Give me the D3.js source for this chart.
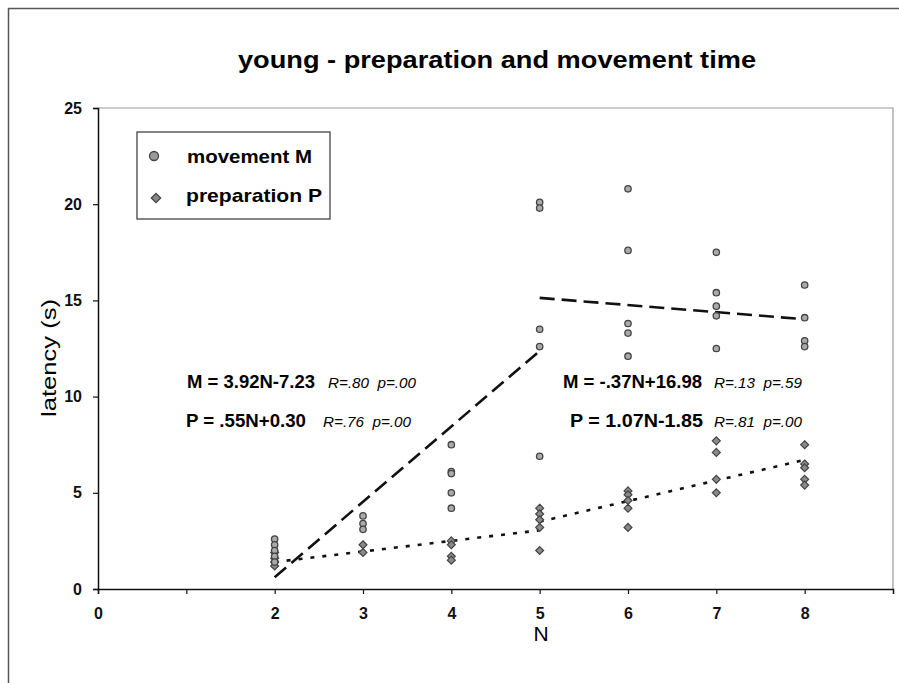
<!DOCTYPE html>
<html>
<head>
<meta charset="utf-8">
<script src="https://cdn.jsdelivr.net/npm/d3@7"></script>
<style>
  body { margin: 0; background: #fff; }
  svg { font-family: "Liberation Sans", Arial, sans-serif; }
</style>
</head>
<body>
<div class="container"></div>
<script>
var nValues = [2, 3, 4, 5, 6, 7, 8];
var movement = [
    [2.6, 2.3, 2.0, 1.7, 1.4],
    [3.8, 3.4, 3.1],
    [7.5, 6.1, 6.0, 5.0, 4.2],
    [20.1, 19.8, 13.5, 12.6, 6.9],
    [20.8, 17.6, 13.8, 13.3, 12.1],
    [17.5, 15.4, 14.7, 14.2, 12.5],
    [15.8, 14.1, 12.9, 12.6]
];
var preparation = [
    [1.9, 1.6, 1.4, 1.2],
    [2.3, 1.9],
    [2.5, 2.3, 1.7, 1.5],
    [4.2, 3.9, 3.6, 3.2, 2.0],
    [5.1, 4.9, 4.6, 4.2, 3.2],
    [7.7, 7.1, 5.7, 5.0],
    [7.5, 6.5, 6.3, 5.7, 5.4]
];
var xTicks = [0, 1, 2, 3, 4, 5, 6, 7, 8];
var xTickLabels = ['0', '', '2', '3', '4', '5', '6', '7', '8'];
var yTicks = [0, 5, 10, 15, 20, 25];

// regression segments: [slope, intercept, fromN, toN]
var fitM = [[3.92, -7.23, 2, 5], [-0.37, 16.98, 5, 8]];
var fitP = [[0.55, 0.30, 2, 5], [1.07, -1.85, 5, 8]];
var eqLabels = ['M = 3.92N-7.23', 'P = .55N+0.30', 'M = -.37N+16.98', 'P = 1.07N-1.85'];
var statLabels = ['R=.80  p=.00', 'R=.76  p=.00', 'R=.13  p=.59', 'R=.81  p=.00'];

var W = 899, H = 683;
var plotL = 98, plotT = 108, plotR = 893, plotB = 589;

var translate = (x, y) => `translate(${ x },${ y })`;

var svg = d3.select('.container').append('svg')
    .attr('width', W)
    .attr('height', H);

var x = d3.scaleLinear().domain([0, 9]).range([plotL, plotR]);
var y = d3.scaleLinear().domain([0, 25]).range([plotB, plotT]);

// outer frame
svg.append('rect')
    .attr('x', 8.5).attr('y', 8.5)
    .attr('width', W).attr('height', H)
    .attr('fill', 'none').attr('stroke', '#555').attr('stroke-width', 1.5);

// plot area border (top / right)
svg.append('path')
    .attr('d', `M${plotL},${plotT}H${plotR}V${plotB}`)
    .attr('fill', 'none').attr('stroke', '#999').attr('stroke-width', 1.2);

svg.append('text')
    .attr('x', 497).attr('y', 68)
    .attr('text-anchor', 'middle')
    .attr('font-size', 23).attr('font-weight', 'bold')
    .attr('textLength', 518).attr('lengthAdjust', 'spacingAndGlyphs')
    .text('young - preparation and movement time');

var xAxis = d3.axisBottom(x).tickValues(xTicks).tickSize(5).tickPadding(14)
    .tickFormat((d, i) => xTickLabels[i]);
var yAxis = d3.axisLeft(y).tickValues(yTicks).tickSize(5).tickPadding(11);

var gx = svg.append('g').attr('transform', translate(0, plotB)).call(xAxis);
var gy = svg.append('g').attr('transform', translate(plotL, 0)).call(yAxis);
[gx, gy].forEach(g => {
    g.select('.domain').attr('stroke', '#111').attr('stroke-width', 1.5);
    g.selectAll('.tick line').attr('stroke', '#111').attr('stroke-width', 1.2);
    g.selectAll('.tick text')
        .attr('font-family', '"Liberation Sans", Arial, sans-serif')
        .attr('font-size', 16).attr('font-weight', 'bold').attr('fill', '#111');
});

svg.append('text')
    .attr('transform', translate(56, 358) + ' rotate(-90)')
    .attr('text-anchor', 'middle')
    .attr('font-size', 21)
    .attr('textLength', 118).attr('lengthAdjust', 'spacingAndGlyphs')
    .text('latency (s)');

svg.append('text')
    .attr('x', 541).attr('y', 641)
    .attr('text-anchor', 'middle')
    .attr('font-size', 21)
    .text('N');

// regression lines
var drawFit = (fits, dash) => {
    fits.forEach(([a, b, s, e]) => {
        svg.append('line')
            .attr('x1', x(s)).attr('y1', y(a * s + b))
            .attr('x2', x(e)).attr('y2', y(a * e + b))
            .attr('stroke', '#111').attr('stroke-width', 2.6)
            .attr('stroke-dasharray', dash);
    });
};
drawFit(fitM, '15,7');
drawFit(fitP, '4,8');

var flatten = (sets) => sets.flatMap((vals, i) => vals.map(v => ({n: nValues[i], v: v})));

var diamond = d3.symbol().type(d3.symbolDiamond2).size(40);

svg.append('g').selectAll('path')
    .data(flatten(preparation))
    .enter().append('path')
    .attr('d', diamond)
    .attr('transform', d => translate(x(d.n), y(d.v)))
    .attr('fill', '#8a8a8a').attr('stroke', '#444').attr('stroke-width', 1.2);

svg.append('g').selectAll('circle')
    .data(flatten(movement))
    .enter().append('circle')
    .attr('r', 3.2)
    .attr('cx', d => x(d.n))
    .attr('cy', d => y(d.v))
    .attr('fill', '#aaa').attr('stroke', '#444').attr('stroke-width', 1.3);

// legend
var lg = svg.append('g');
lg.append('rect')
    .attr('x', 137).attr('y', 132).attr('width', 193).attr('height', 87)
    .attr('fill', '#fff').attr('stroke', '#444').attr('stroke-width', 1.3);
lg.append('circle').attr('cx', 154).attr('cy', 156).attr('r', 4.5)
    .attr('fill', '#999').attr('stroke', '#444').attr('stroke-width', 1.3);
lg.append('path').attr('d', d3.symbol().type(d3.symbolDiamond2).size(55))
    .attr('transform', translate(156, 198))
    .attr('fill', '#888').attr('stroke', '#444').attr('stroke-width', 1.3);
lg.append('text').attr('x', 187).attr('y', 163)
    .attr('font-size', 19).attr('font-weight', 'bold')
    .attr('textLength', 125).attr('lengthAdjust', 'spacingAndGlyphs')
    .text('movement M');
lg.append('text').attr('x', 186).attr('y', 202)
    .attr('font-size', 19).attr('font-weight', 'bold')
    .attr('textLength', 136).attr('lengthAdjust', 'spacingAndGlyphs')
    .text('preparation P');

// equations
var eqPos = [[187, 388], [186, 427], [563, 388], [570, 427]];
var eqLen = [128, 120, 139, 133];
var statPos = [[328, 388], [323, 427], [714, 388], [714, 427]];
eqLabels.forEach((t, i) => {
    svg.append('text')
        .attr('x', eqPos[i][0]).attr('y', eqPos[i][1])
        .attr('font-size', 18).attr('font-weight', 'bold')
        .attr('textLength', eqLen[i]).attr('lengthAdjust', 'spacingAndGlyphs')
        .text(t);
    svg.append('text')
        .attr('x', statPos[i][0]).attr('y', statPos[i][1])
        .attr('font-size', 14).attr('font-style', 'italic')
        .attr('xml:space', 'preserve')
        .attr('textLength', 88).attr('lengthAdjust', 'spacingAndGlyphs')
        .text(statLabels[i]);
});
</script>
</body>
</html>
